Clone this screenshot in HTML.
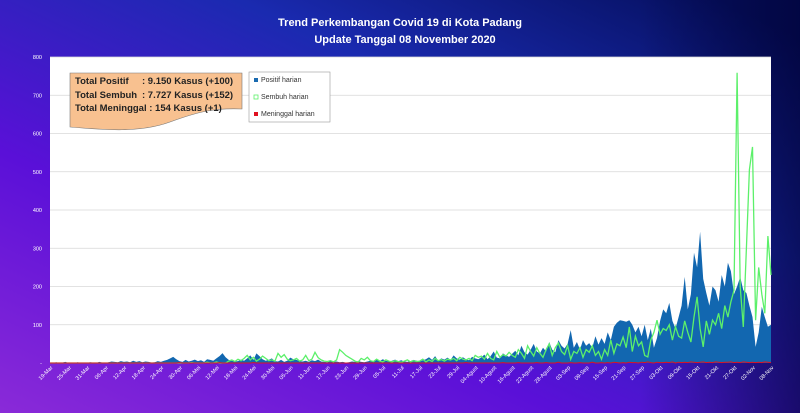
<!DOCTYPE html>
<html><head><meta charset="utf-8"><style>
body{margin:0;width:800px;height:413px;overflow:hidden;font-family:"Liberation Sans",sans-serif}
</style></head><body>
<svg width="800" height="413" viewBox="0 0 800 413">
<defs>
<linearGradient id="bg" x1="0" y1="1" x2="0.9" y2="0">
<stop offset="0" stop-color="#8a2ad8"/><stop offset="0.35" stop-color="#5a10d8"/><stop offset="0.7" stop-color="#1a2ab0"/><stop offset="1" stop-color="#061060"/>
</linearGradient>
<linearGradient id="bg2" x1="0" y1="0" x2="1" y2="0">
<stop offset="0.8" stop-color="#000030" stop-opacity="0"/><stop offset="1" stop-color="#000030" stop-opacity="0.6"/>
</linearGradient>
</defs>
<rect width="800" height="413" fill="url(#bg)"/>
<rect width="800" height="413" fill="url(#bg2)"/>
<text x="400" y="26" fill="#fff" font-size="11" font-weight="bold" text-anchor="middle">Trend Perkembangan Covid 19 di Kota Padang</text>
<text x="405" y="43" fill="#fff" font-size="11" font-weight="bold" text-anchor="middle">Update Tanggal  08 November 2020</text>
<rect x="50" y="57" width="721" height="306" fill="#fff"/>
<g id="grid"></g><g id="ylab"></g><g id="series"></g><g id="xlab"></g>
<path d="M70 73 H242 V109 C215 108 200 111 170 122 C140 133 105 130 70 127 Z" fill="#f8c190" stroke="#777" stroke-width="0.6"/>
<g font-size="9.5" font-weight="bold" fill="#222">
<text x="75" y="84">Total Positif</text><text x="142" y="84">: 9.150  Kasus (+100)</text>
<text x="75" y="98">Total Sembuh</text><text x="142" y="98">: 7.727  Kasus (+152)</text>
<text x="75" y="111">Total Meninggal  :  154 Kasus (+1)</text>
</g>
<g>
<rect x="249" y="72" width="81" height="50" fill="#fff" stroke="#999" stroke-width="0.6"/>
<rect x="254" y="78" width="4" height="4" fill="#1a6ab0"/>
<text x="261" y="82" font-size="7" fill="#333">Positif harian</text>
<rect x="254" y="95" width="4" height="4" fill="#fff" stroke="#5cf06a" stroke-width="0.8"/>
<text x="261" y="99" font-size="7" fill="#333">Sembuh harian</text>
<rect x="254" y="112" width="4" height="4" fill="#e01020"/>
<text x="261" y="116" font-size="7" fill="#333">Meninggal harian</text>
</g>
</svg>
<script>
const positif=[1,0,2,0,1,3,0,1,0,2, 0,1,0,2,1,0,3,1,0,2, 4,3,2,5,3,4,2,6,3,5, 2,4,3,1,2,5,3,6,8,12,
16,10,5,3,8,4,6,9,5,7, 3,10,8,6,12,18,26,15,8,6, 4,5,9,6,12,20,8,25,18,10, 6,8,12,5,4,8,3,6,14,10,
8,5,4,6,3,7,5,9,4,3, 2,5,3,4,2,3,1,2,4,3, 5,3,2,4,6,3,8,5,10,6, 4,6,9,5,7,4,3,5,8,6,
4,7,10,15,8,18,6,12,9,14, 8,20,12,9,15,10,7,16,12,10, 15,22,10,18,30,14,12,25,20,16, 24,32,20,45,28,22,35,50,30,25,
40,30,55,35,28,60,45,38,50,86, 40,55,35,60,45,52,40,70,48,65, 50,80,60,95,105,112,110,108,112,100, 80,95,70,100,60,90,40,65,110,140,
130,157,110,90,120,150,225,140,180,288, 250,343,220,183,150,200,190,160,230,200, 262,240,180,200,225,190,183,150,120,42, 80,147,120,95,100];
const sembuh=[0,0,0,0,0,0,0,0,0,0, 0,0,0,0,0,0,0,0,0,0, 0,0,0,0,0,0,0,0,0,0, 0,0,0,0,0,0,0,0,0,0,
0,0,0,0,0,0,1,0,0,0, 0,2,0,0,3,0,0,0,5,8, 4,10,6,12,20,8,15,5,10,18, 12,6,8,5,25,15,22,10,6,8,
12,5,8,20,6,10,28,14,8,5, 4,6,3,8,35,28,20,15,10,5, 2,12,8,15,6,4,10,5,3,8, 5,3,6,4,2,5,8,3,6,4,
5,10,3,8,4,12,6,9,5,10, 8,12,6,15,10,8,12,6,20,15, 18,10,25,12,8,30,15,22,18,28, 20,15,35,25,12,45,30,18,40,25,
15,35,50,20,40,52,30,22,45,10, 30,25,40,15,35,28,45,20,30,10, 35,20,60,25,50,45,68,40,94,30, 70,45,55,20,16,60,80,112,75,90,
85,100,60,95,70,65,110,80,55,120, 173,90,42,110,75,112,100,130,90,150, 120,160,190,759,200,94,300,505,565,112, 250,180,130,332,230];
const meninggal=[0,0,0,0,0,0,0,0,0,0, 0,0,0,0,0,0,0,0,0,0, 0,0,0,0,0,0,0,0,0,0, 0,0,0,0,0,0,0,0,0,0,
0,0,1,0,0,0,0,0,0,0, 0,0,0,0,0,1,0,0,0,0, 0,0,0,0,0,0,1,0,0,0, 0,0,0,0,0,0,0,0,0,0,
0,0,0,0,0,0,0,0,0,0, 0,0,0,0,0,0,0,0,0,0, 0,0,0,0,0,0,0,0,0,0, 0,0,0,0,0,0,0,0,0,0,
0,0,0,0,0,0,0,0,0,0, 0,0,0,0,0,1,0,0,0,0, 0,0,0,0,0,0,0,1,0,0, 0,0,1,0,0,0,0,0,1,0,
0,1,0,0,0,2,0,0,0,1, 0,0,1,0,0,0,2,0,0,1, 0,1,0,2,1,0,1,0,2,1, 1,0,2,1,3,1,0,2,1,1,
2,1,3,0,2,1,2,1,3,2, 1,2,3,1,2,1,3,2,1,2, 2,3,1,2,1,3,2,1,2,1, 2,1,3,2,1];
const yTicks=[0,100,200,300,400,500,600,700,800];
const xTickLabels=["19-Mar","25-Mar","31-Mar","06-Apr","12-Apr","18-Apr","24-Apr","30-Apr","06-Mei","12-Mei","18-Mei","24-Mei","30-Mei","05-Jun","11-Jun","17-Jun","23-Jun","29-Jun","05-Jul","11-Jul","17-Jul","23-Jul","29-Jul","04-Agust","10-Agust","16-Agust","22-Agust","28-Agust","03-Sep","09-Sep","15-Sep","21-Sep","27-Sep","03-Okt","09-Okt","15-Okt","21-Okt","27-Okt","02-Nov","08-Nov"];
const NS="http://www.w3.org/2000/svg";
const X0=50,X1=771,Y0=363,Y1=57,N=positif.length;
const xs=i=>X0+(X1-X0)*i/(N-1);
const ys=v=>Y0-(Y0-Y1)*v/800;
function mk(t,a,p){const e=document.createElementNS(NS,t);for(const k in a)e.setAttribute(k,a[k]);p.appendChild(e);return e;}
const g=document.getElementById('grid'),yl=document.getElementById('ylab'),s=document.getElementById('series'),xl=document.getElementById('xlab');
yTicks.forEach(v=>{
 if(v>0){const l=mk('line',{x1:X0,x2:X1,y1:ys(v),y2:ys(v),stroke:'#d8d8d8','stroke-width':0.8},g);
 
 }
 const t=mk('text',{x:42,y:ys(v)+2,'font-size':5.5,fill:'#fff','text-anchor':'end'},yl);
 t.textContent=v===0?'-':v;
 
 
});
let d='M'+xs(0)+','+Y0;positif.forEach((v,i)=>d+=' L'+xs(i).toFixed(1)+','+ys(v).toFixed(1));d+=' L'+xs(N-1)+','+Y0+'Z';
const a=mk('path',{d:d,fill:'#1267b0'},s);


const gl=mk('polyline',{points:sembuh.map((v,i)=>xs(i).toFixed(1)+','+ys(v).toFixed(1)).join(' '),fill:'none',stroke:'#5cf06a','stroke-width':1.3},s);


const rl=mk('polyline',{points:meninggal.map((v,i)=>xs(i).toFixed(1)+','+ys(v).toFixed(1)).join(' '),fill:'none',stroke:'#e01020','stroke-width':1},s);


xTickLabels.forEach((lab,k)=>{
 const x=xs(Math.min(k*6,N-1)),y=368;
 const t=mk('text',{x:x+3,y:y,'font-size':5.5,fill:'#fff','text-anchor':'end',transform:'rotate(-45 '+(x+3)+' '+y+')'},xl);
 t.textContent=lab;
 
 
});
</script>
</body></html>
